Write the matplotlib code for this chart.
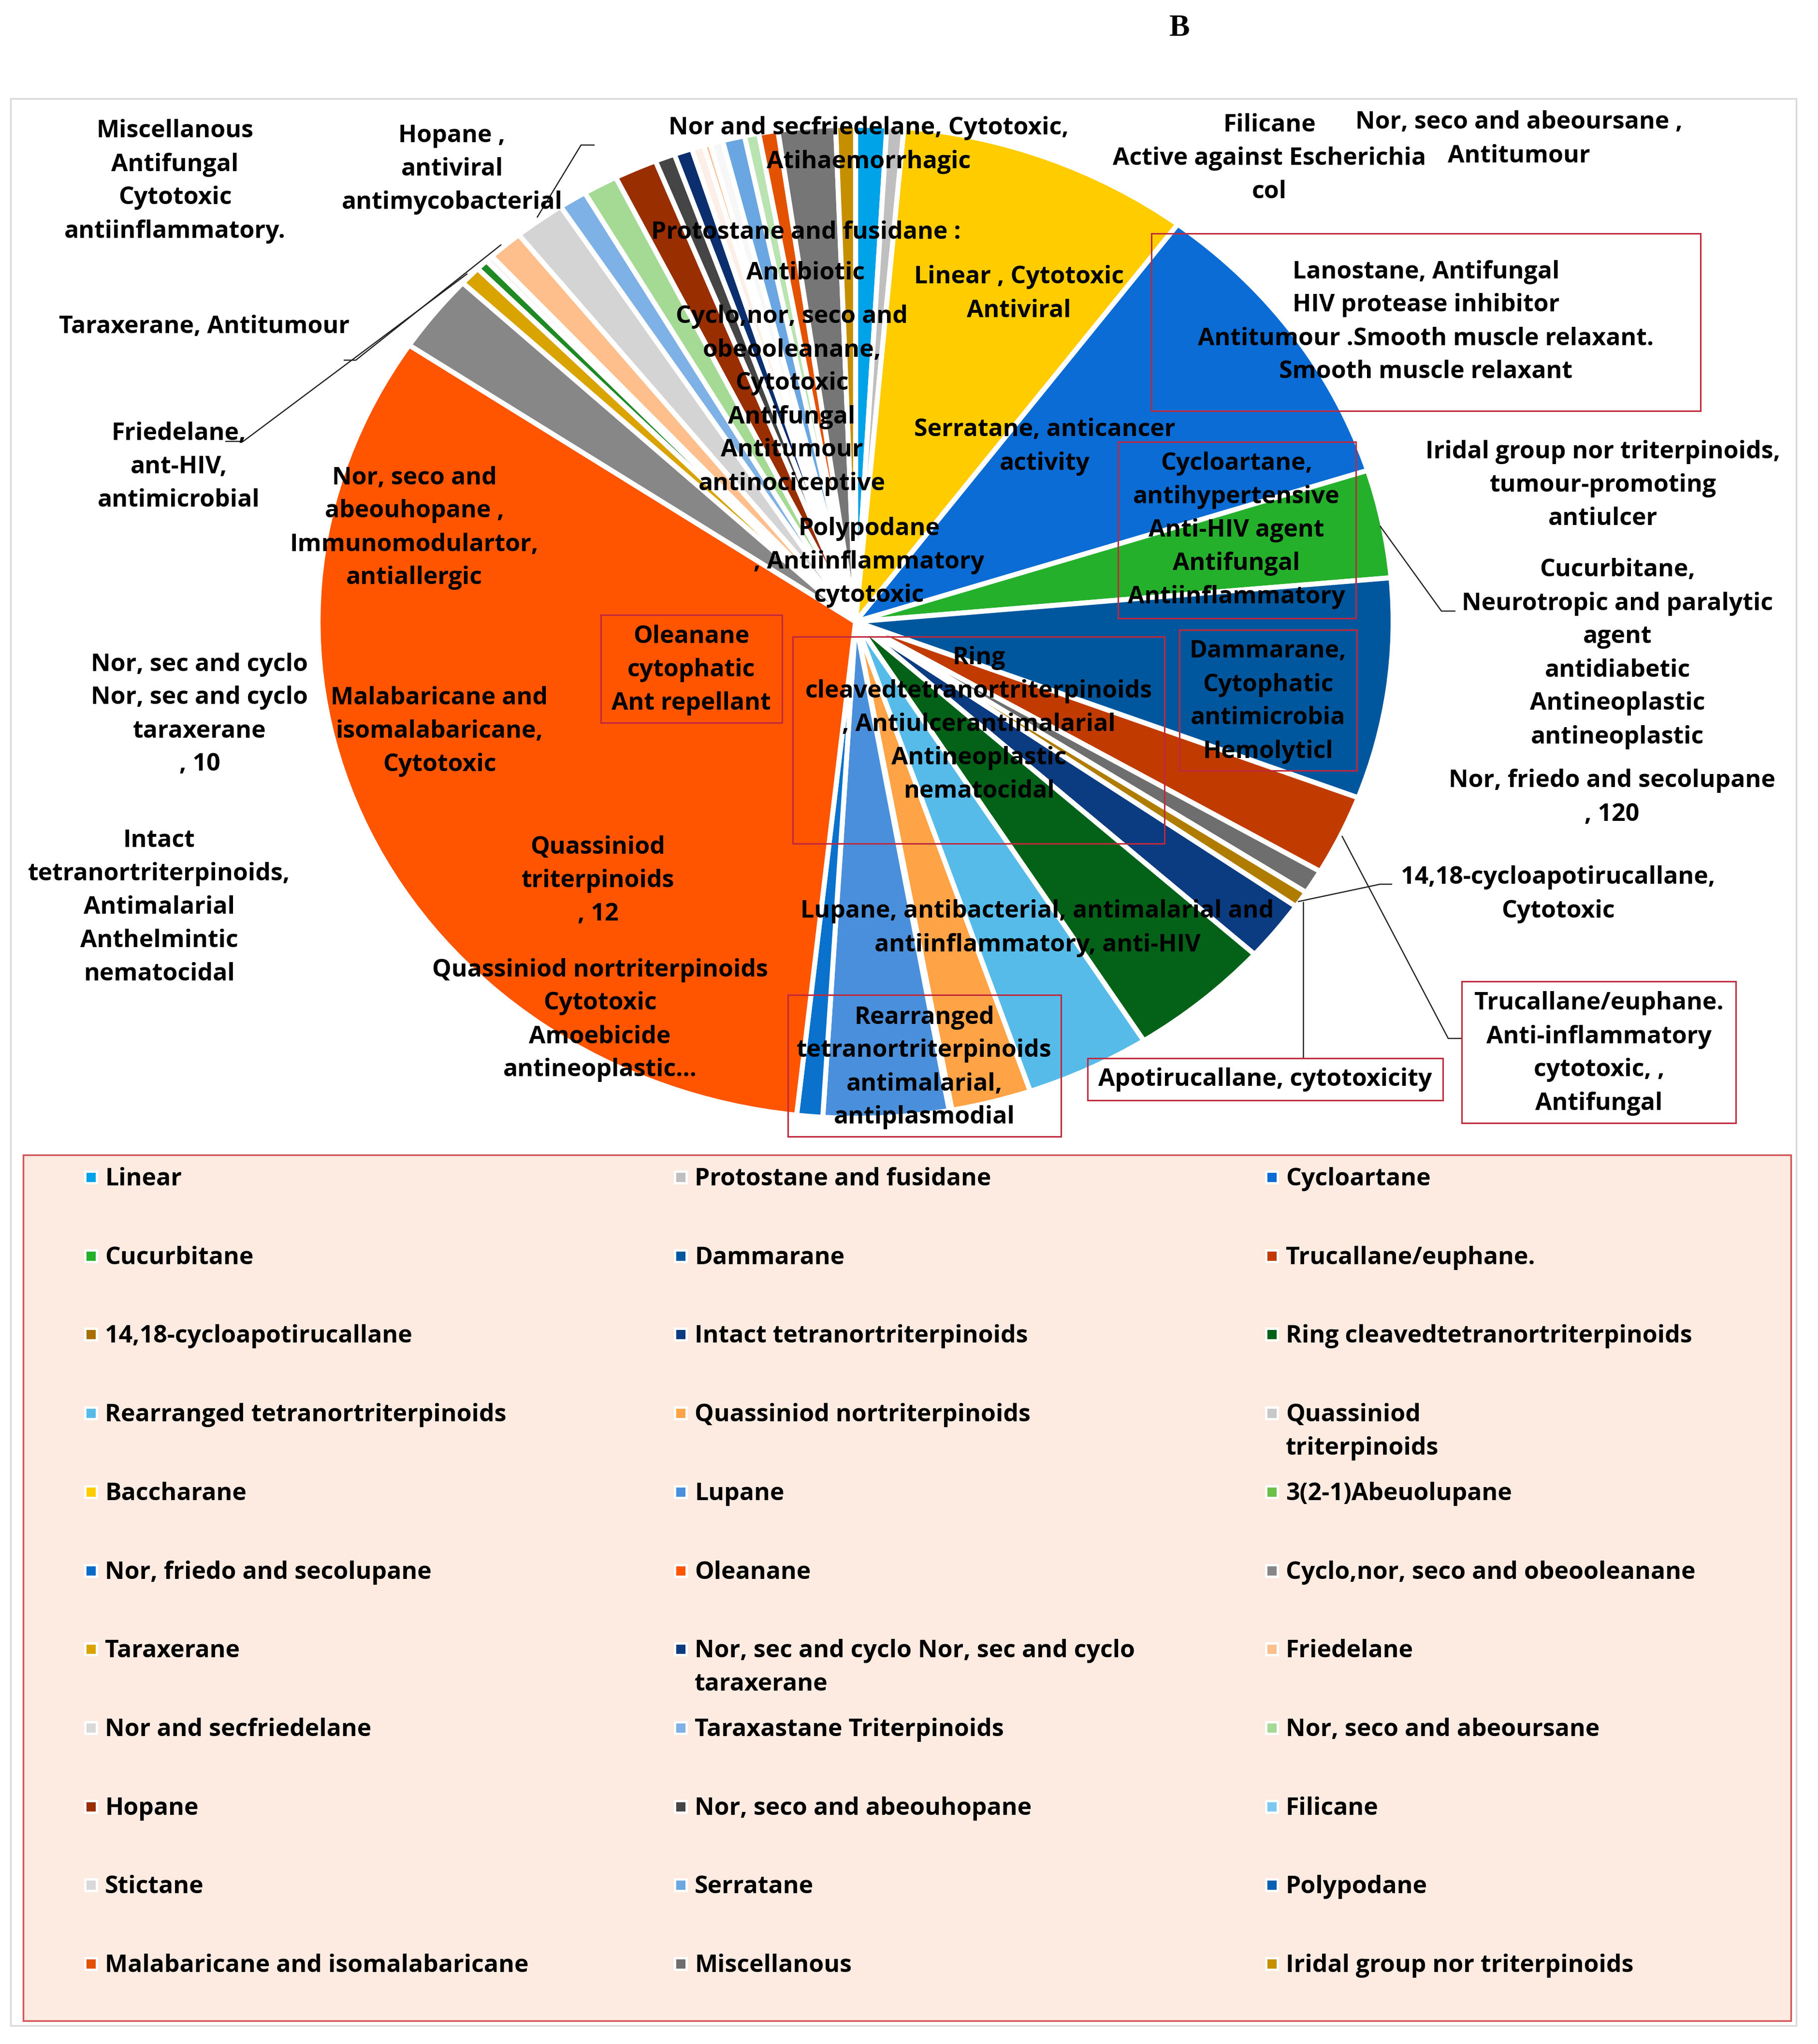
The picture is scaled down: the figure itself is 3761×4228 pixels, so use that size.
import matplotlib
matplotlib.use("Agg")
import matplotlib.pyplot as plt
from matplotlib.patches import Rectangle

W, H, DPI = 3761, 4228, 100

# ---------------- data: pie slices, clockwise from 12 o'clock (values = degrees)
slice_names = [
    "Linear", "Protostane and fusidane", "Baccharane", "Cycloartane", "Cucurbitane",
    "Dammarane", "Trucallane/euphane.", "Apotirucallane", "14,18-cycloapotirucallane",
    "Intact tetranortriterpinoids", "Ring cleavedtetranortriterpinoids",
    "Rearranged tetranortriterpinoids", "Quassiniod nortriterpinoids", "Quassiniod triterpinoids",
    "Lupane", "Nor, friedo and secolupane", "Oleanane", "Cyclo,nor, seco and obeooleanane",
    "Taraxerane", "Nor, sec and cyclo taraxerane", "Taraxastane (minor)", "Friedelane",
    "Nor and secfriedelane", "Taraxastane Triterpinoids", "Nor, seco and abeoursane", "Hopane",
    "Nor, seco and abeouhopane", "Intact (minor)", "Stictane", "Friedelane (minor)", "Filicane",
    "Serratane", "3(2-1)Abeuolupane", "Malabaricane and isomalabaricane", "Miscellanous",
    "Iridal group nor triterpinoids",
]
slice_values = [
    3.34, 1.83, 31.66, 35.43, 12.66,
    25.85, 9.43, 2.85, 1.95,
    7.07, 15.5,
    13.47, 8.63, 0.3,
    13.53, 2.8, 117.55, 9.19,
    2.29, 1.3, 0.77, 3.8,
    5.53, 3.02, 3.75, 4.64,
    2.16, 1.96, 1.34, 0.7, 1.37,
    2.4, 1.55, 2.07, 6.18,
    2.13,
]
slice_colors = [
    "#00A2E8", "#BFBFBF", "#FFCC00", "#0A6CD4", "#25B02C",
    "#00579E", "#C13B00", "#6E6E6E", "#B07C00",
    "#0B3B80", "#036118",
    "#56BBE9", "#FFA347", "#F3E6B0",
    "#4A8FDB", "#0A72CC", "#FF5500", "#878787",
    "#D9A300", "#1F8A24", "#F4F4F4", "#FFBF8C",
    "#D4D4D4", "#7EB1E6", "#A5DA95", "#992E00",
    "#454545", "#0A2E6E", "#FBEFE8", "#FFB98A", "#F7F7F7",
    "#6AA7E2", "#B9E3B0", "#E35200", "#767676",
    "#C58F00",
]

# ---------------- data: legend (row-major, 3 columns)
legend_names = [
    "Linear", "Protostane and fusidane", "Cycloartane",
    "Cucurbitane", "Dammarane", "Trucallane/euphane.",
    "14,18-cycloapotirucallane", "Intact tetranortriterpinoids", "Ring cleavedtetranortriterpinoids",
    "Rearranged tetranortriterpinoids", "Quassiniod nortriterpinoids", "Quassiniod\ntriterpinoids",
    "Baccharane", "Lupane", "3(2-1)Abeuolupane",
    "Nor, friedo and secolupane", "Oleanane", "Cyclo,nor, seco and obeooleanane",
    "Taraxerane", "Nor, sec and cyclo Nor, sec and cyclo\ntaraxerane", "Friedelane",
    "Nor and secfriedelane", "Taraxastane Triterpinoids", "Nor, seco and abeoursane",
    "Hopane", "Nor, seco and abeouhopane", "Filicane",
    "Stictane", "Serratane", "Polypodane",
    "Malabaricane and isomalabaricane", "Miscellanous", "Iridal group nor triterpinoids",
]
legend_colors = [
    "#00A2E8", "#BFBFBF", "#0A6CD4",
    "#25B02C", "#00579E", "#C13B00",
    "#A86F00", "#0B3B80", "#036118",
    "#56BBE9", "#FFA347", "#C8C8C8",
    "#FFCC00", "#4A8FDB", "#6CC04A",
    "#0A6CC8", "#FF5500", "#878787",
    "#D9A300", "#0B3B80", "#FFBF8C",
    "#D9D9D9", "#7EB1E6", "#A5DA95",
    "#992E00", "#454545", "#7CC8F0",
    "#D9D9D9", "#6AA7E2", "#0A5FB0",
    "#E35200", "#6E6E6E", "#C58F00",
]

# ---------------- data labels (texts)
label_texts = [
    "Miscellanous\nAntifungal\nCytotoxic\nantiinflammatory.",
    "Hopane ,\nantiviral\nantimycobacterial",
    "Taraxerane, Antitumour",
    "Friedelane,\nant-HIV,\nantimicrobial",
    "Nor, sec and cyclo\nNor, sec and cyclo\ntaraxerane\n, 10",
    "Intact\ntetranortriterpinoids,\nAntimalarial\nAnthelmintic\nnematocidal",
    "Nor and secfriedelane, Cytotoxic,\nAtihaemorrhagic",
    "Filicane\nActive against Escherichia\ncol",
    "Nor, seco and abeoursane ,\nAntitumour",
    "Lanostane, Antifungal\nHIV protease inhibitor\nAntitumour .Smooth muscle relaxant.\nSmooth muscle relaxant",
    "Iridal group nor triterpinoids,\ntumour-promoting\nantiulcer",
    "Cucurbitane,\nNeurotropic and paralytic\nagent\nantidiabetic\nAntineoplastic\nantineoplastic",
    "Nor, friedo and secolupane\n, 120",
    "14,18-cycloapotirucallane,\nCytotoxic",
    "Trucallane/euphane.\nAnti-inflammatory\ncytotoxic, ,\nAntifungal",
    "Apotirucallane, cytotoxicity",
    "Protostane and fusidane :",
    "Antibiotic",
    "Cyclo,nor, seco and\nobeooleanane,\nCytotoxic\nAntifungal\nAntitumour\nantinociceptive",
    "Linear , Cytotoxic\nAntiviral",
    "Serratane, anticancer\nactivity",
    "Polypodane\n, Antiinflammatory\ncytotoxic",
    "Cycloartane,\nantihypertensive\nAnti-HIV agent\nAntifungal\nAntiinflammatory",
    "Dammarane,\nCytophatic\nantimicrobia\nHemolyticl",
    "Nor, seco and\nabeouhopane ,\nImmunomodulartor,\nantiallergic",
    "Oleanane\ncytophatic\nAnt repellant",
    "Malabaricane and\nisomalabaricane,\nCytotoxic",
    "Ring\ncleavedtetranortriterpinoids\n, Antiulcerantimalarial\nAntineoplastic\nnematocidal",
    "Quassiniod\ntriterpinoids\n, 12",
    "Lupane, antibacterial, antimalarial and\nantiinflammatory, anti-HIV",
    "Quassiniod nortriterpinoids\nCytotoxic\nAmoebicide\nantineoplastic...",
    "Rearranged\ntetranortriterpinoids\nantimalarial,\nantiplasmodial",
]

# ---------------- layout (pixel coordinates of the picture)
label_xy = [
    (362, 375), (935, 350), (423, 676), (370, 966), (413, 1478), (329, 1877),
    (1797, 300), (2626, 328), (3142, 288), (2950, 666), (3316, 1004), (3346, 1352),
    (3335, 1650), (3223, 1850), (3308, 2179), (2617, 2233), (1667, 481), (1667, 565),
    (1638, 828), (2108, 608), (2161, 924), (1798, 1163), (2558, 1097), (2623, 1451),
    (857, 1092), (1430, 1386), (909, 1513), (2025, 1499), (1237, 1822), (2146, 1920),
    (1241, 2110), (1912, 2208),
]
# labels whose lines interleave with a neighbour: set line by line
line_by_line = {7, 8}
LINE_STEP = 69
label_boxes = {
    9: (2382, 483, 3518, 850),
    14: (3024, 2030, 3591, 2323),
    15: (2250, 2189, 2985, 2276),
    22: (2313, 914, 2805, 1279),
    23: (2440, 1303, 2807, 1594),
    25: (1243, 1272, 1618, 1495),
    27: (1640, 1317, 2409, 1745),
    31: (1630, 2058, 2195, 2351),
}
leaders = [
    [(1111, 450), (1202, 300), (1230, 300)],
    [(1037, 506), (736, 745), (711, 745)],
    [(967, 566), (503, 913), (466, 913)],
    [(2855, 1088), (2982, 1264), (3011, 1264)],
    [(2685, 1865), (2855, 1829), (2880, 1829)],
    [(2696, 1865), (2696, 2189)],
    [(2776, 1729), (2996, 2148), (3024, 2148)],
]

CX, CY, RX, RY = 1770, 1286, 1112, 1027
FONT = "Open Sans"
FS = 36
LS = 1.5

fig = plt.figure(figsize=(W / DPI, H / DPI), dpi=DPI)
fig.patch.set_facecolor("white")

# pie axes
axp = fig.add_axes([(CX - RX) / W, 1 - (CY + RY) / H, 2 * RX / W, 2 * RY / H])
axp.pie(slice_values, colors=slice_colors, startangle=90, counterclock=False,
        radius=1.0, wedgeprops=dict(edgecolor="white", linewidth=7.5))
axp.set_aspect("auto")
axp.set_xlim(-1, 1)
axp.set_ylim(-1, 1)
axp.axis("off")

# overlay axes in pixel coordinates
ax = fig.add_axes([0, 0, 1, 1], zorder=3)
ax.set_xlim(0, W)
ax.set_ylim(H, 0)
ax.axis("off")
ax.patch.set_alpha(0)

# outer chart border
ax.add_patch(Rectangle((22, 204), 3716 - 22, 4190 - 204, fill=False,
                       edgecolor="#D9D9D9", linewidth=2.5))

# title "B"
ax.text(2440, 59, "B", ha="center", va="center", fontsize=46,
        fontfamily="Liberation Serif", fontweight="bold", color="black")

# leader lines
for pts in leaders:
    xs = [p[0] for p in pts]
    ys = [p[1] for p in pts]
    ax.plot(xs, ys, color="#222222", linewidth=1.8, solid_capstyle="butt")

# boxes
for i, (x0, y0, x1, y1) in label_boxes.items():
    ax.add_patch(Rectangle((x0, y0), x1 - x0, y1 - y0, fill=False,
                           edgecolor="#C0283C", linewidth=2.2, zorder=4))

# data labels
style = dict(fontsize=FS, fontfamily=FONT, fontweight="bold", color="black", zorder=5)
for i, (txt, (x, y)) in enumerate(zip(label_texts, label_xy)):
    if i in line_by_line:
        lines = txt.split("\n")
        y0 = y - (len(lines) - 1) * LINE_STEP / 2
        for j, ln in enumerate(lines):
            ax.text(x, y0 + j * LINE_STEP, ln, ha="center", va="center", **style)
    else:
        ax.text(x, y, txt, ha="center", va="center", multialignment="center",
                linespacing=LS, **style)

# legend
LX0, LY0, LX1, LY1 = 48, 2389, 3705, 4180
ax.add_patch(Rectangle((LX0, LY0), LX1 - LX0, LY1 - LY0, facecolor="#FDEAE0",
                       edgecolor="#D25555", linewidth=2.5, zorder=1))
col_text_x = [217, 1437, 2660]
row0, row_step = 2435, 162.7
fs_px = FS * DPI / 72
for k, (name, col) in enumerate(zip(legend_names, legend_colors)):
    r, c = divmod(k, 3)
    yc = row0 + r * row_step
    xm = col_text_x[c] - 29
    ax.add_patch(Rectangle((xm - 12, yc - 12), 24, 24, facecolor=col,
                           edgecolor="white", linewidth=3.5, zorder=2))
    ax.text(col_text_x[c], yc - 0.42 * fs_px, name, ha="left", va="top",
            fontsize=FS, fontfamily=FONT, fontweight="bold", color="black",
            linespacing=LS, zorder=3)

fig.savefig("out.png", dpi=DPI, facecolor="white")
